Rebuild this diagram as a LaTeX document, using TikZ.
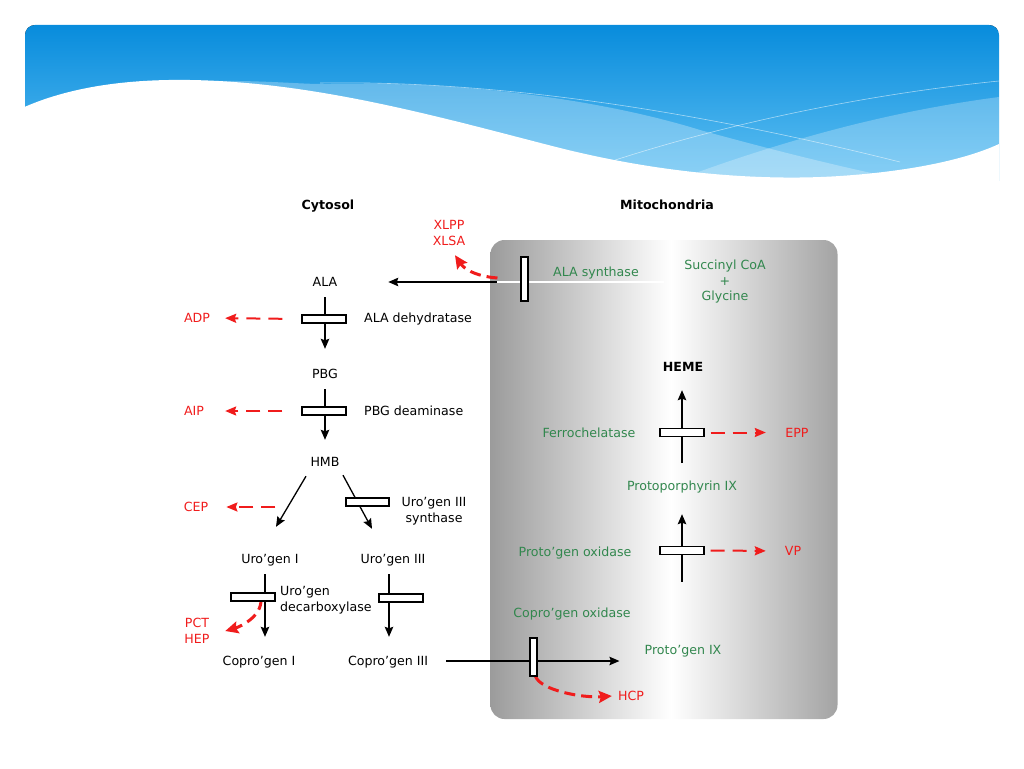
\documentclass[tikz,border=0pt]{standalone}
\usepackage{fontspec}
\setmainfont{DejaVu Sans}
\usetikzlibrary{arrows.meta}
\definecolor{grn}{RGB}{50,135,78}
\definecolor{rd}{RGB}{240,28,28}
\definecolor{bltop}{RGB}{8,140,220}
\definecolor{blbot}{RGB}{95,192,243}
\pgfdeclarehorizontalshading{mitoshade}{100bp}{color(0bp)=(black!39); color(25bp)=(black!39); color(51bp)=(white); color(75bp)=(black!36); color(100bp)=(black!36)}
\pgfdeclarelayer{back}
\pgfdeclarelayer{mid}
\pgfsetlayers{back,mid,main}
\newcommand\dfont{\fontsize{12.6}{15.5}\selectfont}
\begin{document}
\begin{tikzpicture}[x=1pt,y=-1pt,
  lbl/.style={font=\dfont, inner sep=1pt, text height=9.2pt, text depth=0pt},
  glbl/.style={lbl, text=grn},
  rlbl/.style={lbl, text=rd},
  blbl/.style={lbl, font=\dfont\bfseries},
  ml/.style={font=\dfont, inner sep=1pt, align=center},
  enz/.style={draw, fill=white, line width=1.1pt, minimum width=44pt, minimum height=8pt, inner sep=0pt},
  venz/.style={draw, fill=white, line width=1.1pt, minimum width=7pt, minimum height=44pt, inner sep=0pt},
  arr/.style={draw, line width=1.3pt, -{Stealth[length=10pt,width=8.5pt,inset=1.5pt]}},
  rarr/.style={draw=rd, line width=2pt, dash pattern=on 14pt off 8pt, -{Stealth[length=11pt,width=9pt,inset=1.5pt,fill=rd]}},
  rcurve/.style={draw=rd, line width=3pt, dash pattern=on 11pt off 6pt, -{Stealth[length=13pt,width=12pt,inset=2pt,fill=rd]}}
]
\useasboundingbox (0,0) rectangle (1024,768);

% ---------- banner ----------
\begin{pgfonlayer}{back}
\begin{scope}
\clip[rounded corners=10pt] (25,25) rectangle (999,210);
\fill[top color=bltop, bottom color=blbot] (25,25) rectangle (999,180);
\fill[white, opacity=.28] (200,81) .. controls (260,80) and (300,84) .. (320,84) .. controls (470,80) and (610,102) .. (700,130) .. controls (780,152) and (860,172) .. (930,185) -- (200,190) -- cycle;
\fill[white, opacity=.25] (690,175) .. controls (800,135) and (900,110) .. (999,97) -- (999,190) -- (690,190) -- cycle;
\draw[white, opacity=.55, line width=.6pt] (320,83) .. controls (500,80) and (700,112) .. (900,162);
\draw[white, opacity=.55, line width=.6pt] (600,165) .. controls (720,125) and (860,95) .. (999,81);
\fill[white] (20,109) .. controls (70,86) and (130,79) .. (190,80) .. controls (320,82) and (450,120) .. (560,148) .. controls (680,178) and (780,180) .. (840,176) .. controls (900,172) and (960,162) .. (999,144) -- (1005,215) -- (20,215) -- cycle;
\end{scope}
\node[shade, shading=mitoshade, rounded corners=14pt, minimum width=347pt, minimum height=479pt, inner sep=0pt] (mito) at (664,479.5) {};
\end{pgfonlayer}

% ---------- headings ----------
\node[blbl] (cyt) at (328,205) {Cytosol};
\node[blbl] (mitt) at (667,205) {Mitochondria};

% ---------- text nodes ----------
\node[rlbl] (xlpp) at (449,225) {XLPP};
\node[rlbl] (xlsa) at (449,241) {XLSA};
\node[lbl] (ala) at (325,282) {ALA};
\node[glbl] (alasynl) at (596,272) {ALA synthase};
\node[ml, text=grn] (succ) at (725,282) {Succinyl CoA\\+\\Glycine};
\node[lbl, anchor=west] (dehydl) at (363,318) {ALA dehydratase};
\node[rlbl] (adp) at (197,318) {ADP};
\node[lbl] (pbg) at (325,374) {PBG};
\node[lbl, anchor=west] (deaml) at (363,411) {PBG deaminase};
\node[rlbl] (aip) at (194,411) {AIP};
\node[lbl] (hmb) at (325,462) {HMB};
\node[ml] (synl) at (434,511) {Uro'gen III\\synthase};
\node[rlbl] (cep) at (196,507) {CEP};
\node[lbl] (uroI) at (270,559) {Uro'gen I};
\node[lbl] (uroIII) at (393,559) {Uro'gen III};
\node[ml, align=left, anchor=west] (decl) at (279,600) {Uro'gen\\decarboxylase};
\node[rlbl] (pct) at (197,623) {PCT};
\node[rlbl] (hep) at (197,639) {HEP};
\node[lbl] (coI) at (259,661) {Copro'gen I};
\node[lbl] (coIII) at (388,661) {Copro'gen III};
\node[glbl] (coxl) at (572,613) {Copro'gen oxidase};
\node[glbl] (protoIX) at (683,650) {Proto'gen IX};
\node[rlbl] (hcp) at (631,696) {HCP};
\node[glbl] (poxl) at (575,552) {Proto'gen oxidase};
\node[glbl] (ppIX) at (682,486) {Protoporphyrin IX};
\node[rlbl] (vp) at (793,551) {VP};
\node[glbl] (ferl) at (589,433) {Ferrochelatase};
\node[blbl] (heme) at (683,367) {HEME};
\node[rlbl] (epp) at (797,432.5) {EPP};

% ---------- enzyme boxes ----------
\node[venz] (alasyn) at (524.5,279) {};
\node[enz] (dehyd) at (324,319) {};
\node[enz] (deam) at (324,411) {};
\node[enz, minimum width=43pt] (synbox) at (367.5,502) {};
\node[enz] (decbox) at (253,597) {};
\node[enz] (decbox2) at (401,598) {};
\node[venz, minimum height=38pt] (coxbox) at (533.5,657) {};
\node[enz] (ferbox) at (682,432.5) {};
\node[enz] (poxbox) at (682,550.5) {};

% ---------- connectors ----------
\begin{pgfonlayer}{mid}
% ALA synthase
\draw[arr, shorten <=23pt, shorten >=49.8pt] (alasyn.west |- ala) -- (ala);
\draw[white, line width=1.3pt] (alasyn.west |- ala) ++(-23,0) -- (mito.center |- ala);
\draw[rcurve] (alasyn.west) ++(-23,-1) .. controls +(-25,-2) and +(8,12) .. ([xshift=6pt,yshift=-8.4pt]xlsa.south);
% main cytosol chain
\draw[arr, shorten <=9.4pt, shorten >=19.4pt] (ala) -- (pbg);
\draw[arr, shorten <=9.4pt, shorten >=16.4pt] (pbg) -- (hmb);
\draw[arr] ([xshift=-19pt,yshift=-8.4pt]hmb.south) -- ([xshift=6pt,yshift=26.4pt]uroI.north);
\draw[arr] ([xshift=18pt,yshift=-7.4pt]hmb.south) -- ([xshift=-21pt,yshift=24.4pt]uroIII.north);
\draw[arr] ([xshift=-5pt,yshift=-9.4pt]uroI.south) -- ([xshift=6pt,yshift=18.4pt]coI.north);
\draw[arr] ([xshift=-4pt,yshift=-9.4pt]uroIII.south) -- ([xshift=1pt,yshift=18.4pt]coIII.north);
\draw[arr, shorten <=17pt, shorten >=24pt] (coIII.east) -- (coIII.east -| protoIX.west);
% mitochondria chain
\draw[arr, shorten >=22.4pt] (poxbox.south) ++(0,26.5) -- (ppIX.south);
\draw[arr, shorten >=17.4pt] (ferbox.south) ++(0,26) -- (ferbox |- heme.south);
% red dashed arrows
\draw[rarr, shorten <=19pt, shorten >=14pt] (dehyd.west) -- (adp.east);
\draw[rarr, shorten <=19pt, shorten >=20pt] (deam.west) -- (aip.east);
\draw[rarr, shorten >=17pt] ([xshift=66pt]cep.east) -- (cep.east);
\draw[rarr, shorten <=6pt, shorten >=18.4pt] (ferbox.east) -- (epp.west);
\draw[rarr, shorten <=6pt, shorten >=17.9pt] (poxbox.east) -- (vp.west);
\draw[rcurve] ([xshift=8pt,yshift=-2pt]decbox.center) .. controls +(1,18) and +(14,-4) .. ([xshift=15pt,yshift=-8pt]pct.east);
\draw[rcurve] (coxbox.south) ++(2,0) .. controls +(6,14) and +(-30,2) .. ([xshift=-5pt]hcp.west);
\end{pgfonlayer}
\end{tikzpicture}
\end{document}
